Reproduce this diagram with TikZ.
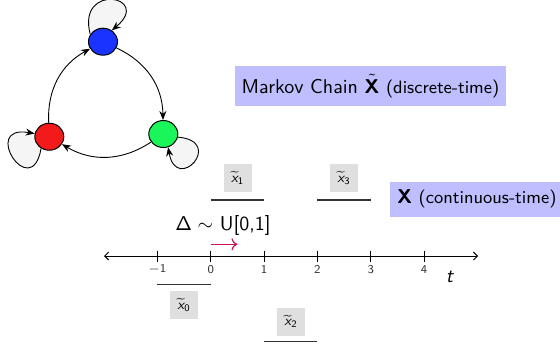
\documentclass[tikz,border=0pt]{standalone}
\usepackage{amsmath,amssymb}
\usepackage{tikz}
\usetikzlibrary{arrows.meta,positioning,shapes.geometric,calc,backgrounds}
\definecolor{sblue}{HTML}{1A33FF}
\definecolor{sred}{HTML}{F21A1A}
\definecolor{sgreen}{HTML}{1AF55A}
\definecolor{lav}{HTML}{BFBFFF}
\definecolor{loopgray}{HTML}{F5F5F5}
\definecolor{shiftred}{HTML}{CC1155}
\newcommand{\xt}[1]{$\widetilde{\textsf{\itshape x}}_{\mathsf{#1}}$}

\begin{document}
\sffamily
\begin{tikzpicture}[x=0.5pt,y=-0.5pt, every node/.style={font=\sffamily,align=center},
  state/.style={draw=black,ellipse,line width=0.5pt,minimum width=14.5pt,minimum height=13.5pt,inner sep=0pt},
  edge/.style={-{Stealth[length=4.5pt,width=3.5pt]},line width=0.45pt},
  selfloop/.style={edge,fill=loopgray},
  headline/.style={fill=lav,inner xsep=3.5pt,inner ysep=0pt,minimum height=20pt},
  xbox/.style={fill=gray!25,minimum size=14pt,inner sep=0pt,font=\scriptsize},
  band/.style={line width=0.7pt,black!80}]
\useasboundingbox (0,0) rectangle (560,349);
% chain
\node[state,fill=sblue] (blue) at (103,41.7) {};
\node[state,fill=sred] (red) at (49.3,136.7) {};
\node[state,fill=sgreen] (green) at (163.3,134) {};
\draw[edge] (blue) to[bend left=32] (green);
\draw[edge] (green) to[bend left=32] (red);
\draw[edge] (red) to[bend left=32] (blue);
\begin{scope}[on background layer]
\draw[selfloop] (blue.150) to[out=105,in=40,distance=27pt] (blue.52);
\draw[selfloop] (red.235) to[out=260,in=170,distance=28pt] (red.168);
\draw[selfloop] (green.-12) to[out=-5,in=-80,distance=24pt] (green.290);
\end{scope}
% labels
\node[headline] (chain) at (370.5,86) {Markov Chain $\tilde{\textbf{X}}$ {\small(discrete-time)}};
\node[headline,minimum height=17.5pt,anchor=west] (cont) at (390,199) {$\textbf{X}$ {\small(continuous-time)}};
% time axis
\coordinate (left) at (104,256);
\coordinate (right) at (478,256);
\draw[{Straight Barb[length=2pt,width=4pt]}-{Straight Barb[length=2pt,width=4pt]},line width=0.45pt] (left) -- (right);
\foreach \n [count=\k] in {-1,...,4} {
  \coordinate (tick\k) at (210.7+53.33*\n,256);
  \draw[line width=0.5pt] ($(tick\k)+(0,-5.5)$) -- ($(tick\k)+(0,5.5)$);
  \node[font=\fontsize{6}{7}\selectfont,text=black!80] (num\k) at ($(tick\k)+(0,13.5)$) {$\mathsf{\n}$};
}
\node (tlab) at (450,277) {\textit{t}};
\node (delta) at (223,225) {$\mathsf{\Delta}\sim$ U[0,1]};
\draw[->,shiftred,line width=0.6pt] ($(tick2)+(0,-11.7)$) -- ($(tick2)+(26.6,-11.7)$);
% holding intervals
\draw[band] ($(tick1)+(0,28.7)$) -- ($(tick2)+(0,28.7)$);
\draw[band] ($(tick2)+(0,-56)$) -- ($(tick3)+(0,-56)$);
\draw[band] ($(tick3)+(0,85.7)$) -- ($(tick4)+(0,85.7)$);
\draw[band] ($(tick4)+(0,-56)$) -- ($(tick5)+(0,-56)$);
\node[xbox] (x0) at (184,305) {\xt{0}};
\node[xbox] (x1) at (237.7,178) {\xt{1}};
\node[xbox] (x2) at (291,321.7) {\xt{2}};
\node[xbox] (x3) at (344,178) {\xt{3}};
\end{tikzpicture}
\end{document}
